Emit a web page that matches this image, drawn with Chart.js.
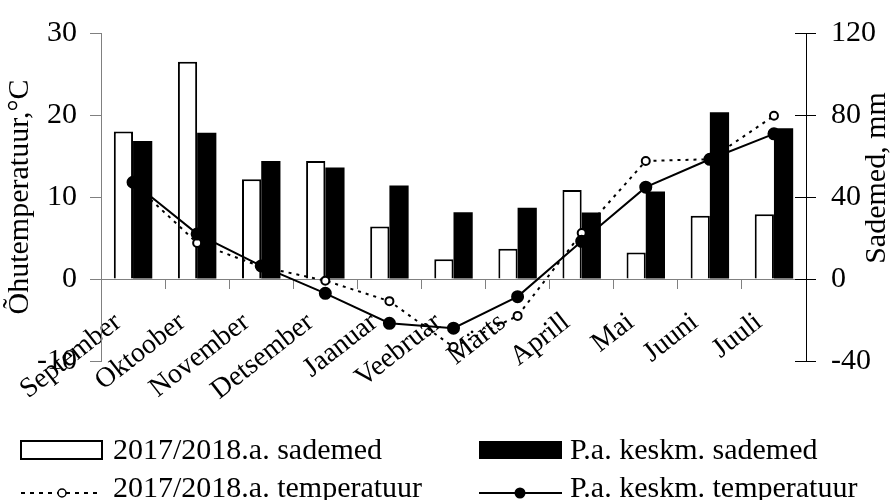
<!DOCTYPE html>
<html>
<head>
<meta charset="utf-8">
<script src="https://cdn.jsdelivr.net/npm/chart.js@4/dist/chart.umd.min.js"></script>
<style>
  html, body { margin: 0; padding: 0; background: #fff; }
  #wrap { position: relative; width: 890px; height: 500px; }
  #legend { position: absolute; left: 0; top: 0; }
  #legend text { font-family: "Liberation Serif", serif; font-size: 30px; fill: #000; }
</style>
</head>
<body>
<div id="wrap">
  <canvas id="chart" width="890" height="500"></canvas>
  <svg id="legend" width="890" height="500"></svg>
</div>
<script>
var months = ["September", "Oktoober", "November", "Detsember", "Jaanuar", "Veebruar",
              "Märts", "Aprill", "Mai", "Juuni", "Juuli"];
var seriesNames = ["2017/2018.a. sademed", "P.a. keskm. sademed",
                   "2017/2018.a. temperatuur", "P.a. keskm. temperatuur"];

// sademed, mm (right axis)
var rain2018 = [72, 106, 48.6, 57.6, 25.6, 9.6, 14.8, 43.4, 12.9, 30.8, 31.6];
var rainAvg  = [67.3, 71.4, 57.6, 54.4, 45.6, 32.6, 34.8, 32.5, 42.7, 81.4, 73.5];

// õhutemperatuur, °C (left axis)
var temp2018 = [11.7, 4.4, 1.5, -0.2, -2.7, -8.3, -4.5, 5.6, 14.4, 14.6, 19.9];
var tempAvg  = [11.8, 5.5, 1.6, -1.75, -5.4, -6.0, -2.15, 4.6, 11.2, 14.6, 17.7];

var leftTitle = "Õhutemperatuur,°C";
var rightTitle = "Sademed, mm";

var serif = "Liberation Serif";
var grey = "#808080";

// right axis: ticks cross the axis, title reads bottom to top
var rightAxisExtras = {
  id: 'rightAxisExtras',
  afterDraw: function(chart) {
    var ctx = chart.ctx, y1 = chart.scales.y1, x = chart.chartArea.right;
    ctx.save();
    ctx.strokeStyle = '#000';
    ctx.lineWidth = 1;
    y1.ticks.forEach(function(t) {
      var py = Math.round(y1.getPixelForValue(t.value)) + 0.5;
      ctx.beginPath();
      ctx.moveTo(x - 11, py);
      ctx.lineTo(x, py);
      ctx.stroke();
    });
    ctx.translate(877, 178);
    ctx.rotate(-Math.PI / 2);
    ctx.font = "30px '" + serif + "'";
    ctx.fillStyle = '#000';
    ctx.textAlign = 'center';
    ctx.textBaseline = 'middle';
    ctx.fillText(rightTitle, 0, 0);
    ctx.restore();
  }
};

new Chart(document.getElementById("chart").getContext("2d"), {
  type: 'bar',
  data: {
    labels: months,
    datasets: [{
      type: 'line',
      label: seriesNames[3],
      data: tempAvg,
      yAxisID: 'y',
      borderColor: '#000',
      borderWidth: 2,
      pointRadius: 5.5,
      pointBackgroundColor: '#000',
      pointBorderColor: '#000',
      tension: 0,
      order: 0
    }, {
      type: 'line',
      label: seriesNames[2],
      data: temp2018,
      yAxisID: 'y',
      borderColor: '#000',
      borderWidth: 2,
      borderDash: [3, 5],
      pointRadius: 4,
      pointBorderWidth: 2,
      pointBackgroundColor: '#fff',
      pointBorderColor: '#000',
      tension: 0,
      order: 1
    }, {
      label: seriesNames[0],
      data: rain2018,
      yAxisID: 'y1',
      backgroundColor: '#fff',
      borderColor: '#000',
      borderWidth: 2,
      categoryPercentage: 0.6,
      barPercentage: 1,
      order: 2
    }, {
      label: seriesNames[1],
      data: rainAvg,
      yAxisID: 'y1',
      backgroundColor: '#000',
      borderColor: '#000',
      borderWidth: 0,
      categoryPercentage: 0.6,
      barPercentage: 1,
      order: 2
    }]
  },
  options: {
    responsive: false,
    animation: false,
    layout: { padding: { top: 25, bottom: 139, left: 0, right: 0 } },
    plugins: { legend: { display: false }, tooltip: { enabled: false } },
    scales: {
      x: {
        position: { y: 0 },
        offset: true,
        grid: { offset: true, drawOnChartArea: false, color: grey, tickLength: 9, tickColor: grey },
        border: { color: grey, width: 1 },
        ticks: {
          color: '#000',
          font: { family: serif, size: 28 },
          minRotation: 38,
          maxRotation: 38,
          autoSkip: false,
          labelOffset: -15,
          padding: 18
        }
      },
      y: {
        position: 'left',
        min: -10,
        max: 30,
        afterFit: function(s) { s.width = 101; },
        ticks: { stepSize: 10, color: '#000', font: { family: serif, size: 30 }, padding: 13 },
        grid: { drawOnChartArea: false, tickLength: 11, color: grey },
        border: { color: grey, width: 1 },
        title: {
          display: true,
          text: leftTitle,
          color: '#000',
          font: { family: serif, size: 30 },
          padding: { top: 2, bottom: 0 }
        }
      },
      y1: {
        position: 'right',
        min: -40,
        max: 120,
        afterFit: function(s) { s.width = 84; },
        ticks: { stepSize: 40, color: '#000', font: { family: serif, size: 30 }, padding: 15 },
        grid: { drawOnChartArea: false, tickLength: 10, color: '#000' },
        border: { color: '#000', width: 1 }
      }
    }
  },
  plugins: [rightAxisExtras]
});

// legend, two columns by two rows
var svg = document.getElementById("legend");
var ns = "http://www.w3.org/2000/svg";
function el(name, attrs, text) {
  var e = document.createElementNS(ns, name);
  for (var k in attrs) e.setAttribute(k, attrs[k]);
  if (text) e.textContent = text;
  svg.appendChild(e);
}
el("rect", { x: 21, y: 441, width: 81, height: 18, fill: "#fff", stroke: "#000", "stroke-width": 2 });
el("text", { x: 113, y: 459 }, seriesNames[0]);
el("rect", { x: 479, y: 441, width: 83, height: 18, fill: "#000" });
el("text", { x: 570, y: 459 }, seriesNames[1]);
el("line", { x1: 21, y1: 493, x2: 100, y2: 493, stroke: "#000", "stroke-width": 2, "stroke-dasharray": "4 5" });
el("circle", { cx: 62, cy: 493, r: 4, fill: "#fff", stroke: "#000", "stroke-width": 1.5 });
el("text", { x: 113, y: 497 }, seriesNames[2]);
el("line", { x1: 479, y1: 493, x2: 562, y2: 493, stroke: "#000", "stroke-width": 2 });
el("circle", { cx: 520, cy: 493, r: 5.5, fill: "#000" });
el("text", { x: 570, y: 497 }, seriesNames[3]);
</script>
</body>
</html>
